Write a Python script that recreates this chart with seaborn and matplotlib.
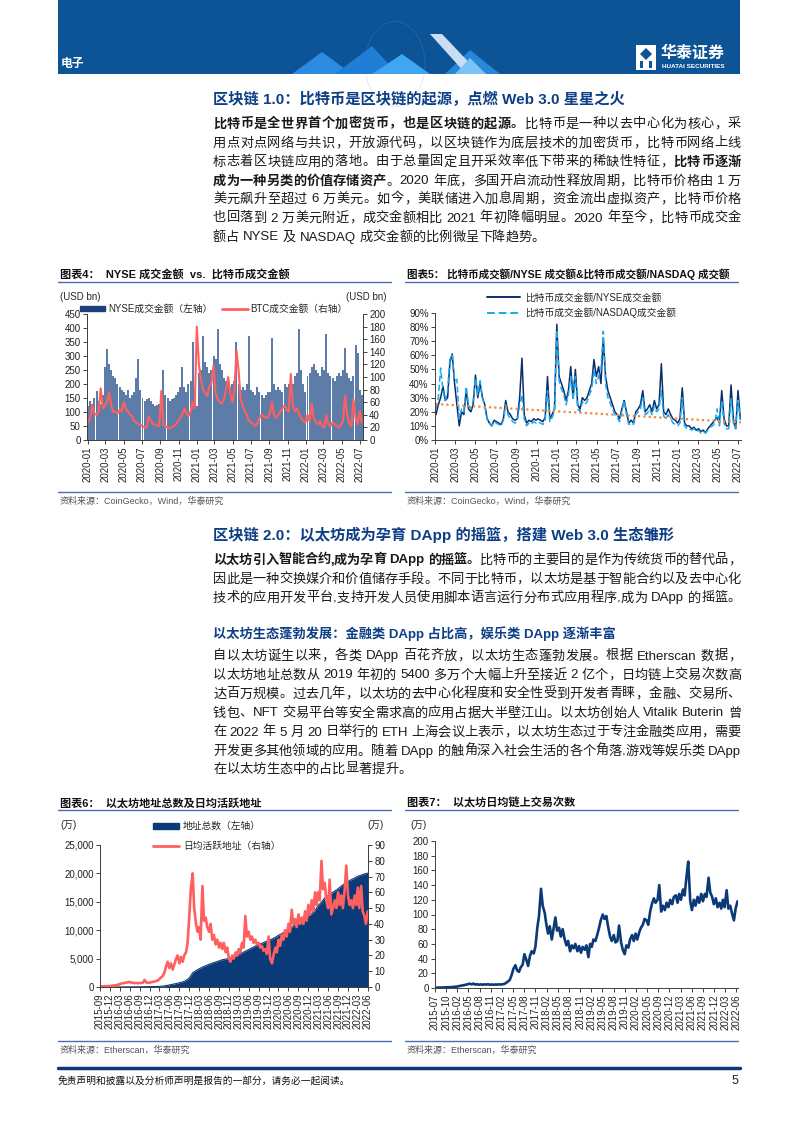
import re
import numpy as np
import pandas as pd
import seaborn as sns
import matplotlib.pyplot as plt
import matplotlib.dates as mdates
from matplotlib.patches import Rectangle, Polygon, Patch, Circle
from matplotlib.lines import Line2D
from matplotlib.font_manager import FontProperties
from matplotlib.ticker import FuncFormatter

# ---------------- 数据 ----------------
# 图表4/5：周度数据，2020-01-03 起
nyse_bn = [
    120, 140, 130, 150, 175, 140, 130, 160, 260, 325, 270, 250, 230,
    220, 200, 190, 180, 170, 160, 180, 150, 160, 170, 220, 290, 180,
    150, 140, 145, 150, 140, 130, 120, 125, 130, 140, 250, 160, 150,
    140, 145, 150, 160, 170, 190, 260, 190, 170, 200, 210, 350, 150,
    120, 240, 250, 370, 280, 260, 240, 250, 300, 290, 395, 270, 250,
    220, 210, 200, 190, 200, 210, 350, 200, 180, 190, 180, 200, 370,
    180, 170, 160, 190, 170, 160, 150, 160, 170, 170, 365, 200, 180,
    190, 180, 170, 200, 190, 200, 210, 200, 230, 240, 395, 250, 200, 170,
    230, 240, 260, 270, 250, 240, 230, 260, 250, 380, 240, 230,
    220, 210, 230, 240, 230, 250, 330, 240, 220, 210, 230, 340, 310,
    180, 160,
]
btc_bn = [
    28, 35, 55, 42, 40, 45, 82, 50, 55, 60, 75, 55, 45,
    45, 42, 48, 45, 60, 50, 45, 40, 38, 30, 28, 25, 24,
    22, 20, 20, 38, 30, 26, 24, 23, 22, 78, 24, 22, 20,
    18, 20, 22, 25, 30, 35, 40, 50, 42, 38, 45, 60, 50,
    180, 120, 95, 80, 75, 70, 85, 90, 118, 75, 65, 60, 58,
    65, 80, 100, 75, 60, 80, 142, 110, 65, 55, 45, 40, 30,
    28, 25, 22, 26, 35, 40, 38, 35, 36, 42, 60, 40, 35,
    40, 45, 50, 55, 48, 45, 105, 55, 45, 50, 40, 35, 30, 28,
    40, 30, 58, 35, 28, 25, 30, 22, 20, 40, 25, 22,
    28, 25, 22, 20, 25, 30, 70, 40, 25, 22, 65, 35, 25,
    45, 28,
]
ratio_nyse = [
    18, 25, 30, 38, 28, 30, 55, 61, 40, 25, 10, 20, 18,
    35, 22, 20, 25, 46, 30, 40, 30, 25, 15, 12, 10, 14,
    13, 12, 11, 15, 28, 20, 18, 15, 14, 15, 30, 58, 18,
    12, 14, 13, 15, 14, 15, 14, 13, 16, 45, 15, 18, 22,
    82, 45, 40, 35, 28, 35, 52, 30, 50, 25, 22, 30, 28,
    30, 35, 40, 57, 45, 52, 40, 72, 45, 35, 30, 25, 20,
    18, 15, 22, 28, 20, 12, 14, 12, 20, 22, 25, 35, 20,
    22, 25, 20, 28, 22, 25, 54, 20, 18, 22, 18, 15, 14, 12,
    15, 37, 12, 10, 10, 8, 9, 7, 8, 6, 7, 5,
    8, 10, 12, 14, 16, 12, 35, 15, 10, 10, 39, 15, 8,
    35, 15,
]
ratio_nasdaq = [
    22, 30, 51, 35, 28, 35, 58, 60, 42, 43, 15, 22, 20,
    38, 25, 22, 28, 44, 32, 42, 30, 24, 15, 12, 10, 13,
    12, 11, 10, 14, 25, 18, 15, 13, 12, 13, 25, 32, 15,
    10, 12, 11, 13, 12, 13, 12, 11, 14, 35, 13, 16, 20,
    78, 42, 36, 32, 25, 32, 45, 28, 45, 22, 20, 27, 25,
    27, 32, 36, 50, 40, 45, 50, 77, 40, 30, 26, 22, 18,
    16, 13, 20, 28, 18, 11, 12, 11, 18, 20, 22, 30, 18,
    19, 22, 18, 24, 20, 22, 35, 17, 15, 18, 15, 12, 11, 10,
    12, 30, 10, 8, 8, 7, 8, 6, 7, 5, 6, 5,
    7, 9, 10, 12, 22, 10, 28, 12, 8, 8, 30, 12, 8,
    28, 14,
]
# 趋势线（起点、终点读数）
trend_dates = ['2020-01-02', '2022-07-10']
trend_pct = [25.5, 12.5]
ticks_2020 = ['2020-01', '2020-03', '2020-05', '2020-07', '2020-09', '2020-11',
              '2021-01', '2021-03', '2021-05', '2021-07', '2021-09', '2021-11',
              '2022-01', '2022-03', '2022-05', '2022-07']

# 图表6：地址总数（月度，2015-09 起），日均活跃地址（半月，2015-09 起），单位：万
eth_addr_total = [
    1, 2, 4, 6,
    8, 10, 14, 18, 22, 26, 30, 34, 40, 48, 55, 62,
    70, 85, 110, 160, 250, 360, 480, 600, 750, 900, 1150, 1600,
    2500, 2900, 3200, 3500, 3750, 4000, 4200, 4400, 4600, 4800, 4900, 5050,
    5250, 5450, 5700, 6000, 6300, 6600, 6900, 7200, 7450, 7700, 7950, 8200,
    8450, 8750, 9100, 9400, 9750, 10100, 10500, 11000, 11300, 11700, 12100, 12500,
    12900, 13500, 14300, 15000, 15700, 16100, 16500, 16900, 17300, 17800, 18200, 18600,
    18900, 19200, 19500, 19700, 19900, 20050,
]
eth_addr_active = [
    0.3, 0.4, 0.4, 0.5, 0.5, 0.6, 0.6, 0.8,
    0.9, 1.0, 1.2, 1.5, 1.8, 2.2, 2.4, 2.6, 2.8, 3.0, 3.2, 2.8,
    2.6, 2.5, 2.6, 2.4, 2.5, 2.6, 2.7, 4.5, 2.8, 2.7, 2.8, 3.0,
    3.2, 3.5, 3.8, 4.2, 5, 6, 7, 9, 13, 16, 12, 15,
    11, 14, 18, 20, 15, 19, 16, 20, 22, 28, 45, 62,
    72, 50, 40, 35, 38, 30, 64, 42, 44, 38, 35, 40,
    30, 33, 27, 30, 25, 28, 24, 28, 22, 25, 18, 16,
    20, 18, 22, 20, 24, 22, 28, 25, 45, 32, 35, 30,
    32, 28, 30, 27, 28, 25, 26, 23, 24, 21, 32, 18,
    15, 20, 25, 22, 30, 26, 33, 30, 36, 32, 40, 35,
    49, 40, 43, 38, 46, 40, 44, 40, 48, 42, 52, 46,
    55, 48, 60, 52, 60, 55, 80, 62, 66, 55, 50, 68,
    46, 50, 55, 50, 60, 52, 58, 50, 62, 77, 58, 52,
    55, 50, 58, 52, 63, 50, 64, 48, 45, 40, 48,
]
ticks_2015q = ['2015-09', '2015-12', '2016-03', '2016-06', '2016-09', '2016-12',
               '2017-03', '2017-06', '2017-09', '2017-12', '2018-03', '2018-06',
               '2018-09', '2018-12', '2019-03', '2019-06', '2019-09', '2019-12',
               '2020-03', '2020-06', '2020-09', '2020-12', '2021-03', '2021-06',
               '2021-09', '2021-12', '2022-03', '2022-06']

# 图表7：以太坊日均链上交易次数（半月，2015-08 起），单位：万
eth_tx = [
    0.4, 0.5, 0.6, 0.7, 0.8, 0.8, 0.9, 0.9, 1.0, 1.2,
    1.5, 1.8, 2.0, 2.6, 3.0, 3.6, 4.0, 4.6, 5.2, 5.8, 5.0, 6.0,
    4.6, 5.2, 4.4, 5.0, 4.4, 5.0, 4.6, 5.2, 4.4, 4.8, 4.4, 4.8,
    4.6, 5.0, 4.6, 5.2, 5.6, 7.0, 9, 11, 18, 26, 31, 24,
    22, 28, 32, 46, 38, 30, 44, 50, 47, 56, 82, 98,
    135, 112, 102, 86, 74, 84, 66, 80, 96, 78, 82, 70,
    80, 68, 58, 64, 50, 58, 54, 60, 50, 57, 48, 56,
    52, 58, 42, 60, 56, 66, 64, 72, 82, 92, 100, 94,
    98, 84, 70, 64, 72, 62, 64, 85, 62, 52, 46, 58,
    55, 66, 72, 64, 74, 66, 76, 82, 86, 94, 92, 86,
    104, 114, 122, 116, 120, 140, 104, 112, 106, 116, 110, 120,
    114, 124, 126, 116, 128, 120, 134, 126, 152, 172, 118, 106,
    120, 112, 124, 116, 128, 118, 128, 124, 150, 130, 124, 114,
    122, 110, 116, 108, 120, 110, 133, 108, 112, 102, 92, 108,
    118,
]
ticks_eth_tx = ['2015-07', '2015-10', '2016-02', '2016-05', '2016-08', '2016-11',
                '2017-02', '2017-05', '2017-08', '2017-11', '2018-02', '2018-05',
                '2018-08', '2018-11', '2019-02', '2019-05', '2019-08', '2019-11',
                '2020-02', '2020-05', '2020-09', '2020-12', '2021-03', '2021-06',
                '2021-09', '2021-12', '2022-03', '2022-06']

# ---------------- 样式 ----------------
W, H = 793, 1122
sns.set_style('ticks')
FAM = ['Liberation Sans', 'Noto Sans CJK SC', 'DejaVu Sans']
plt.rcParams['font.family'] = FAM

NAVY = '#0b3a78'
HEAD = '#0c5496'
TITLE_BLUE = '#0d3f86'
RULE = '#4a6fb0'
RED = '#ff5f5f'
CYAN = '#18a8ee'

fig = plt.figure(figsize=(W / 100, H / 100), dpi=100)
renderer = fig.canvas.get_renderer()


def fy(y):
    return 1 - y / H


def add_ax(l, t, r, b):
    return fig.add_axes([l / W, 1 - b / H, (r - l) / W, (b - t) / H])


def hline(x0, x1, y, color=RULE, lw=1.0):
    fig.add_artist(Line2D([x0 / W, x1 / W], [fy(y), fy(y)], transform=fig.transFigure,
                          color=color, lw=lw))


def ftext(x, y, s, **kw):
    kw.setdefault('va', 'center')
    return fig.text(x / W, fy(y), s, **kw)


# ---------------- 正文排版（两端对齐） ----------------
tok_re = re.compile(r'[A-Za-z0-9.]+| +|.')


def advance(tok, fp):
    w1 = renderer.get_text_width_height_descent('|' + tok + '|', fp, ismath=False)[0]
    w0 = renderer.get_text_width_height_descent('||', fp, ismath=False)[0]
    return w1 - w0


def body_line(y, segments, justify=True, x0=213, x1=741, size=9.5, color='#1a1a1a'):
    units = []
    for seg, bold in segments:
        fp = FontProperties(family=FAM, size=size, weight='bold' if bold else 'normal')
        for tok in tok_re.findall(seg):
            units.append((tok, fp, advance(tok, fp)))
    total = sum(u[2] for u in units)
    gap = (x1 - x0 - total) / (len(units) - 1) if justify else 0.0
    x = x0
    for tok, fp, w in units:
        if tok.strip():
            fig.text(x / W, fy(y + 4.5), tok, fontproperties=fp, color=color,
                     va='baseline', ha='left')
        x += w + gap


# ---------------- 页眉 ----------------
fig.add_artist(Rectangle((58 / W, fy(74)), (740 - 58) / W, 74 / H,
                         transform=fig.transFigure, color=HEAD, lw=0))
fig.add_artist(Circle((395 / W, fy(64)), 30 / W, transform=fig.transFigure,
                      fill=False, ec='#5aa6e6', lw=0.4, alpha=0.35))
for pts, c in [
    ([(292, 74), (322, 52), (352, 74)], '#2c8be0'),
    ([(335, 74), (372, 46), (398, 74)], '#1f7fd6'),
    ([(372, 74), (402, 54), (430, 74)], '#3fa6f2'),
    ([(445, 74), (470, 50), (500, 74)], '#2a86d8'),
    ([(430, 34), (442, 34), (480, 74), (466, 74)], '#c9def5'),
    ([(455, 74), (470, 58), (486, 74)], '#7cc3f5'),
]:
    fig.add_artist(Polygon([(x / W, fy(y)) for x, y in pts], closed=True,
                           transform=fig.transFigure, color=c, lw=0))
ftext(61, 64, '电子', color='white', fontsize=8.5, fontweight='bold')
fig.add_artist(Rectangle((636 / W, fy(70)), 20 / W, 25 / H, transform=fig.transFigure,
                         color='white', lw=0))
fig.add_artist(Polygon([(640 / W, fy(54)), (646 / W, fy(48)), (652 / W, fy(54)), (646 / W, fy(60))],
                       transform=fig.transFigure, color=HEAD, lw=0))
fig.add_artist(Rectangle((640 / W, fy(68)), 3 / W, 7 / H, transform=fig.transFigure, color=HEAD, lw=0))
fig.add_artist(Rectangle((649 / W, fy(68)), 3 / W, 7 / H, transform=fig.transFigure, color=HEAD, lw=0))
ftext(661, 53, '华泰证券', color='white', fontsize=11.5, fontweight='bold')
ftext(662, 67, 'HUATAI SECURITIES', color='white', fontsize=4.6, fontweight='bold')

# ---------------- 第一段 ----------------
ftext(213, 99, '区块链 1.0：比特币是区块链的起源，点燃 Web 3.0 星星之火',
      color=TITLE_BLUE, fontsize=11, fontweight='bold')
B, N = True, False
body_line(123, [('比特币是全世界首个加密货币，也是区块链的起源。', B), ('比特币是一种以去中心化为核心，采', N)])
body_line(142, [('用点对点网络与共识，开放源代码，以区块链作为底层技术的加密货币，比特币网络上线', N)])
body_line(161, [('标志着区块链应用的落地。由于总量固定且开采效率低下带来的稀缺性特征，', N), ('比特币逐渐', B)])
body_line(180, [('成为一种另类的价值存储资产', B), ('。2020 年底，多国开启流动性释放周期，比特币价格由 1 万', N)])
body_line(198, [('美元飙升至超过 6 万美元。如今，美联储进入加息周期，资金流出虚拟资产，比特币价格', N)])
body_line(217, [('也回落到 2 万美元附近，成交金额相比 2021 年初降幅明显。2020 年至今，比特币成交金', N)])
body_line(236, [('额占 NYSE 及 NASDAQ 成交金额的比例微呈下降趋势。', N)], justify=False)

# ---------------- 第二段 ----------------
ftext(213, 535, '区块链 2.0：以太坊成为孕育 DApp 的摇篮，搭建 Web 3.0 生态雏形',
      color=TITLE_BLUE, fontsize=11, fontweight='bold')
body_line(559, [('以太坊引入智能合约,成为孕育 DApp 的摇篮。', B), ('比特币的主要目的是作为传统货币的替代品，', N)])
body_line(578, [('因此是一种交换媒介和价值储存手段。不同于比特币，以太坊是基于智能合约以及去中心化', N)])
body_line(597, [('技术的应用开发平台,支持开发人员使用脚本语言运行分布式应用程序,成为 DApp 的摇篮。', N)])
ftext(213, 634, '以太坊生态蓬勃发展：金融类 DApp 占比高，娱乐类 DApp 逐渐丰富',
      color=TITLE_BLUE, fontsize=9.5, fontweight='bold')
body_line(655, [('自以太坊诞生以来，各类 DApp 百花齐放，以太坊生态蓬勃发展。根据 Etherscan 数据，', N)])
body_line(674, [('以太坊地址总数从 2019 年初的 5400 多万个大幅上升至接近 2 亿个，日均链上交易次数高', N)])
body_line(693, [('达百万规模。过去几年，以太坊的去中心化程度和安全性受到开发者青睐，金融、交易所、', N)])
body_line(712, [('钱包、NFT 交易平台等安全需求高的应用占据大半壁江山。以太坊创始人 Vitalik Buterin 曾', N)])
body_line(731, [('在 2022 年 5 月 20 日举行的 ETH 上海会议上表示，以太坊生态过于专注金融类应用，需要', N)])
body_line(750, [('开发更多其他领域的应用。随着 DApp 的触角深入社会生活的各个角落,游戏等娱乐类 DApp', N)])
body_line(768, [('在以太坊生态中的占比显著提升。', N)], justify=False)


# ---------------- 图表公共 ----------------
def style_ax(ax, spines=('left', 'bottom')):
    for k, s in ax.spines.items():
        s.set_visible(k in spines)
        s.set_linewidth(0.7)
        s.set_color('#404040')
    ax.tick_params(labelsize=7, length=3, width=0.6, pad=1.5, colors='#222222')
    ax.set_xlabel('')
    ax.set_ylabel('')


def chart_frame(x0, x1, y_title, y_rule, y_bottom, title, source, size=8):
    ftext(x0 + 2, y_title, title, fontsize=size, fontweight='bold', color='#111111')
    hline(x0, x1, y_rule)
    hline(x0, x1, y_bottom)
    ftext(x0 + 2, y_bottom + 9, source, fontsize=6.5, color='#555555')


def date_ticks(ax, labels, positions=None, rotation=90):
    if positions is None:
        positions = pd.to_datetime(labels)
    ax.set_xticks(mdates.date2num(positions))
    ax.set_xticklabels(labels, rotation=rotation)


# ---------------- 图表4 ----------------
chart_frame(58, 391, 274, 282, 492, '图表4：  NYSE 成交金额  vs.  比特币成交金额',
            '资料来源：CoinGecko，Wind，华泰研究')
wk = pd.date_range('2020-01-03', periods=len(nyse_bn), freq='W-FRI')
x4 = mdates.date2num(wk)
ax4 = add_ax(87, 314, 363, 440)
sns.barplot(x=x4, y=nyse_bn, native_scale=True, color='#5d7da8', saturation=1,
            width=0.95, linewidth=0, errorbar=None, ax=ax4)
ax4.set_ylim(0, 450)
ax4.set_yticks(range(0, 451, 50))
ax4b = ax4.twinx()
sns.lineplot(x=x4, y=btc_bn, color=RED, lw=1.5, ax=ax4b)
ax4b.set_ylim(0, 200)
ax4b.set_yticks(range(0, 201, 20))
for a in (ax4, ax4b):
    a.set_xlim(mdates.date2num(pd.Timestamp('2019-12-30')), mdates.date2num(pd.Timestamp('2022-07-12')))
style_ax(ax4, ('left', 'bottom', 'right'))
style_ax(ax4b, ('left', 'bottom', 'right'))
date_ticks(ax4, ticks_2020)
ftext(60, 297, '(USD bn)', fontsize=7)
ftext(346, 297, '(USD bn)', fontsize=7)
fig.legend(handles=[Patch(color='#1e3f7a'), Line2D([], [], color=RED, lw=2)],
           labels=['NYSE成交金额（左轴）', 'BTC成交金额（右轴）'], ncol=2,
           loc='center left', bbox_to_anchor=(80 / W, fy(309)), frameon=False,
           fontsize=7, handlelength=2.6, handleheight=0.55, handletextpad=0.3,
           columnspacing=1.0, borderpad=0, borderaxespad=0)

# ---------------- 图表5 ----------------
chart_frame(405, 738, 274, 282, 492, '图表5： 比特币成交额/NYSE 成交额&比特币成交额/NASDAQ 成交额',
            '资料来源：CoinGecko，Wind，华泰研究', size=7.6)
ax5 = add_ax(435, 313, 741, 440)
sns.lineplot(x=x4, y=ratio_nyse, color='#0b2d6b', lw=1.1, ax=ax5)
sns.lineplot(x=x4, y=ratio_nasdaq, color=CYAN, lw=1.1, linestyle=(0, (4, 2)), ax=ax5)
sns.lineplot(x=mdates.date2num(pd.to_datetime(trend_dates)), y=trend_pct, color='#f08a3c',
             lw=1.6, linestyle=(0, (1, 1.4)), ax=ax5)
ax5.set_ylim(0, 90)
ax5.set_yticks(range(0, 91, 10))
ax5.yaxis.set_major_formatter(FuncFormatter(lambda v, p: f'{v:.0f}%'))
ax5.set_xlim(mdates.date2num(pd.Timestamp('2019-12-31')), mdates.date2num(pd.Timestamp('2022-07-10')))
style_ax(ax5)
date_ticks(ax5, ticks_2020)
fig.legend(handles=[Line2D([], [], color='#0b2d6b', lw=1.4),
                    Line2D([], [], color=CYAN, lw=1.4, ls=(0, (4, 2)))],
           labels=['比特币成交金额/NYSE成交金额', '比特币成交金额/NASDAQ成交金额'],
           loc='center left', bbox_to_anchor=(487 / W, fy(305.5)), frameon=False,
           fontsize=7, handlelength=3.4, handletextpad=0.5, labelspacing=0.55,
           borderpad=0, borderaxespad=0)

# ---------------- 图表6 ----------------
chart_frame(58, 391, 803, 810, 1041, '图表6：  以太坊地址总数及日均活跃地址',
            '资料来源：Etherscan，华泰研究')
x6t = mdates.date2num(pd.date_range('2015-09-01', periods=len(eth_addr_total), freq='MS'))
x6a = mdates.date2num(pd.date_range('2015-09-01', periods=len(eth_addr_active), freq='SMS'))
ax6 = add_ax(100, 845, 368, 987)
sns.lineplot(x=x6t, y=eth_addr_total, color=NAVY, lw=0.8, ax=ax6)
ax6.fill_between(x6t, eth_addr_total, color=NAVY, lw=0)
ax6.set_ylim(0, 25000)
ax6.set_yticks(range(0, 25001, 5000))
ax6.yaxis.set_major_formatter(FuncFormatter(lambda v, p: f'{v:,.0f}'))
ax6b = ax6.twinx()
sns.lineplot(x=x6a, y=eth_addr_active, color=RED, lw=1.9, ax=ax6b)
ax6b.set_ylim(0, 90)
ax6b.set_yticks(range(0, 91, 10))
for a in (ax6, ax6b):
    a.set_xlim(mdates.date2num(pd.Timestamp('2015-09-01')), mdates.date2num(pd.Timestamp('2022-06-03')))
style_ax(ax6, ('left', 'bottom', 'right'))
style_ax(ax6b, ('left', 'bottom', 'right'))
date_ticks(ax6, ticks_2015q)
ftext(60, 825, '(万)', fontsize=7)
ftext(367, 825, '(万)', fontsize=7)
fig.legend(handles=[Patch(color=NAVY), Line2D([], [], color=RED, lw=2)],
           labels=['地址总数（左轴）', '日均活跃地址（右轴）'],
           loc='center left', bbox_to_anchor=(153 / W, fy(836)), frameon=False,
           fontsize=7, handlelength=2.7, handleheight=0.6, handletextpad=0.4,
           labelspacing=1.0, borderpad=0, borderaxespad=0)

# ---------------- 图表7 ----------------
chart_frame(405, 738, 803, 810, 1041, '图表7：  以太坊日均链上交易次数',
            '资料来源：Etherscan，华泰研究')
x7 = mdates.date2num(pd.date_range('2015-08-01', periods=len(eth_tx), freq='SMS'))
ax7 = add_ax(435, 841, 738, 988)
sns.lineplot(x=x7, y=eth_tx, color=NAVY, lw=1.9, ax=ax7)
ax7.set_ylim(0, 200)
ax7.set_yticks(range(0, 201, 20))
ax7.set_xlim(mdates.date2num(pd.Timestamp('2015-07-30')), mdates.date2num(pd.Timestamp('2022-07-05')))
style_ax(ax7)
date_ticks(ax7, ticks_eth_tx,
           positions=pd.date_range('2015-07-30', '2022-06-22', periods=len(ticks_eth_tx)))
ftext(410, 825, '(万)', fontsize=7)

# ---------------- 页脚 ----------------
hline(58, 740, 1068, color=NAVY, lw=2.5)
ftext(58, 1081, '免责声明和披露以及分析师声明是报告的一部分，请务必一起阅读。', fontsize=7,
      style='italic', color='#111111')
ftext(738, 1081, '5', fontsize=9, ha='right')

fig.savefig('out.png', dpi=100)
